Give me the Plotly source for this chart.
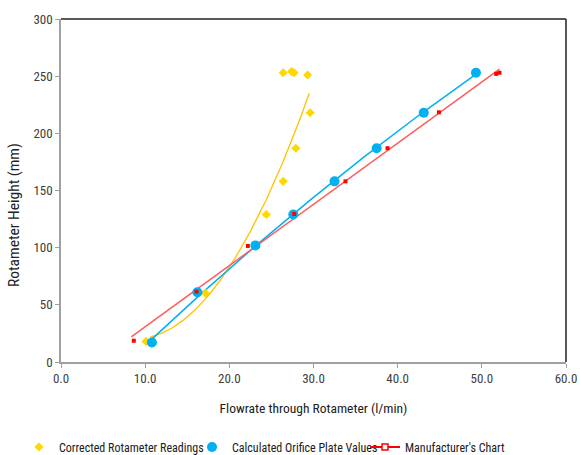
import numpy as np
import plotly.graph_objects as go

# Corrected Rotameter Readings
corr_x = [10.1, 17.2, 24.4, 26.4, 27.9, 29.6, 26.4, 27.4, 27.7, 29.3]
corr_y = [18, 60, 129, 158, 187, 218, 253, 254, 253, 251]
# polynomial trendline (order 2): a, b, c and x range
corr_trend_coef = [0.502, -8.85, 59.2]
corr_trend_range = [10.6, 29.5]

# Calculated Orifice Plate Values
orif_x = [10.8, 16.2, 23.1, 27.6, 32.5, 37.5, 43.1, 49.3]
orif_y = [17, 61, 102, 129, 158, 187, 218, 253]

# Manufacturer's Chart
manu_x = [8.65, 16.1, 22.2, 27.7, 33.8, 38.8, 44.9, 51.7, 52.1]
manu_y = [18.6, 61.5, 101.5, 129.5, 158, 187, 218.4, 252.0, 253.0]

x_ticks = [0, 10, 20, 30, 40, 50, 60]
y_ticks = [0, 50, 100, 150, 200, 250, 300]

YEL = "#FFD700"
YEL_LINE = "#FFC000"
BLUE = "#00B0F0"
RED = "#FF0000"
RED_LINE = "#FF5B5B"

def fit(xs, ys, deg):
    c = np.polyfit(xs, ys, deg)
    xx = np.linspace(min(xs) - 0.3, max(xs), 100)
    return xx, np.polyval(c, xx)

fig = go.Figure()

# trendlines (not in legend)
tx = np.linspace(corr_trend_range[0], corr_trend_range[1], 100)
fig.add_trace(go.Scatter(x=tx, y=np.polyval(corr_trend_coef, tx), mode="lines",
                         line=dict(color=YEL_LINE, width=1.3),
                         showlegend=False, hoverinfo="skip"))
tx, ty = fit(orif_x, orif_y, 2)
fig.add_trace(go.Scatter(x=tx, y=ty, mode="lines", line=dict(color=BLUE, width=1.5),
                         showlegend=False, hoverinfo="skip"))
tx, ty = fit(manu_x, manu_y, 1)
fig.add_trace(go.Scatter(x=tx, y=ty, mode="lines", line=dict(color=RED_LINE, width=1.5),
                         showlegend=False, hoverinfo="skip"))

fig.add_trace(go.Scatter(x=corr_x, y=corr_y, mode="markers", name="Corrected Rotameter Readings",
                         marker=dict(symbol="diamond", size=7, color=YEL)))
fig.add_trace(go.Scatter(x=orif_x, y=orif_y, mode="markers", name="Calculated Orifice Plate Values",
                         marker=dict(symbol="circle", size=10, color=BLUE)))
fig.add_trace(go.Scatter(x=manu_x, y=manu_y, mode="markers", name="Manufacturer's Chart",
                         marker=dict(symbol="square", size=4, color=RED), showlegend=False))
# legend entry for manufacturer's chart (line with square marker)
fig.add_trace(go.Scatter(x=[None], y=[None], mode="lines+markers", name="Manufacturer's Chart",
                         line=dict(color=RED, width=2),
                         marker=dict(symbol="square", size=6, color="white",
                                     line=dict(color=RED, width=1.5))))

font_fam = "Liberation Sans Narrow, Roboto Condensed, Open Sans, sans-serif"
L, T, PW, PH = 61, 19, 505, 343
W, H = 580, 455
fig.update_layout(
    width=W, height=H,
    margin=dict(l=L, r=W - L - PW, t=T, b=H - T - PH, autoexpand=False),
    paper_bgcolor="white", plot_bgcolor="white",
    font=dict(family=font_fam, size=11, color="#404040"),
    showlegend=True,
    legend=dict(orientation="h", x=(19 - L) / PW, xanchor="left",
                y=(T + PH - 447) / PH, yanchor="middle",
                font=dict(size=12, color="#202020"), itemwidth=30,
                entrywidth=128, entrywidthmode="pixels",
                tracegroupgap=0, bgcolor="rgba(0,0,0,0)"),
    xaxis=dict(range=[0, 60], tickvals=x_ticks, ticktext=[f"{v:.1f}" for v in x_ticks],
               showgrid=False, zeroline=False, showline=True, linecolor="#A0A0A0", linewidth=1.5,
               ticks="outside", ticklen=4, tickcolor="#A0A0A0", tickfont=dict(size=13),
               ticklabeloverflow="allow",
               title=dict(text="Flowrate through Rotameter (l/min)", standoff=18,
                          font=dict(size=13.5, color="#202020"))),
    yaxis=dict(range=[0, 300], tickvals=y_ticks,
               showgrid=False, zeroline=False, showline=True, linecolor="#A0A0A0", linewidth=1.5,
               ticks="outside", ticklen=4, tickcolor="#A0A0A0", tickfont=dict(size=13)),
    annotations=[
        dict(text="Rotameter Height (mm)", textangle=-90, showarrow=False,
             xref="paper", yref="paper", x=(14 - L) / PW, y=(T + PH - 215) / PH,
             xanchor="center", yanchor="middle",
             font=dict(size=15.5, color="#202020")),
    ],
    shapes=[
        dict(type="line", xref="paper", yref="paper", x0=0, x1=1, y0=1, y1=1,
             line=dict(color="#202020", width=1.5)),
        dict(type="line", xref="paper", yref="paper", x0=1, x1=1, y0=0, y1=1,
             line=dict(color="#202020", width=1.5)),
    ],
)

# remove the default page margin so the 580x455 figure fills the window exactly
fig.write_html("out.html", config={"displayModeBar": False},
               post_script="document.body.style.margin='0';document.body.style.overflow='hidden';")
